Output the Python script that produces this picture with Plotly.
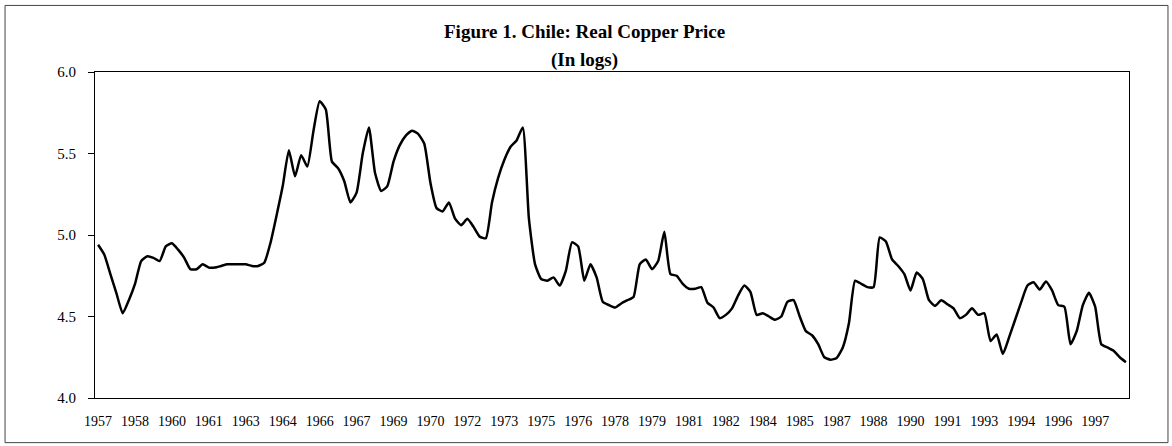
import plotly.graph_objects as go

# Quarterly real copper price (in logs), 1957Q1 - 1998Q4
years = list(range(1957, 1999))
values = [
    4.94, 4.88, 4.76, 4.64,   # 1957
    4.52, 4.60, 4.70, 4.84,   # 1958
    4.87, 4.86, 4.84, 4.93,   # 1959
    4.95, 4.91, 4.86, 4.79,   # 1960
    4.79, 4.82, 4.80, 4.80,   # 1961
    4.81, 4.82, 4.82, 4.82,   # 1962
    4.82, 4.81, 4.81, 4.83,   # 1963
    4.95, 5.12, 5.30, 5.52,   # 1964
    5.36, 5.49, 5.42, 5.64,   # 1965
    5.82, 5.77, 5.45, 5.41,   # 1966
    5.33, 5.20, 5.26, 5.50,   # 1967
    5.66, 5.38, 5.27, 5.30,   # 1968
    5.45, 5.55, 5.61, 5.64,   # 1969
    5.62, 5.56, 5.32, 5.165,  # 1970
    5.145, 5.20, 5.10, 5.06,  # 1971
    5.10, 5.05, 4.99, 4.98,   # 1972
    5.20, 5.35, 5.46, 5.54,   # 1973
    5.58, 5.66, 5.10, 4.82,   # 1974
    4.73, 4.72, 4.74, 4.69,   # 1975
    4.78, 4.955, 4.93, 4.72,  # 1976
    4.82, 4.74, 4.59, 4.57,   # 1977
    4.555, 4.58, 4.60, 4.62,  # 1978
    4.82, 4.85, 4.79, 4.84,   # 1979
    5.02, 4.76, 4.75, 4.70,   # 1980
    4.67, 4.67, 4.68, 4.585,  # 1981
    4.555, 4.49, 4.51, 4.55,  # 1982
    4.63, 4.69, 4.65, 4.51,   # 1983
    4.52, 4.50, 4.48, 4.50,   # 1984
    4.59, 4.60, 4.50, 4.41,   # 1985
    4.385, 4.33, 4.25, 4.235, # 1986
    4.245, 4.31, 4.46, 4.72,  # 1987
    4.70, 4.68, 4.68, 4.985,  # 1988
    4.96, 4.85, 4.81, 4.76,   # 1989
    4.66, 4.77, 4.73, 4.60,   # 1990
    4.565, 4.60, 4.575, 4.55, # 1991
    4.49, 4.51, 4.55, 4.51,   # 1992
    4.52, 4.35, 4.39, 4.27,   # 1993
    4.37, 4.48, 4.59, 4.69,   # 1994
    4.71, 4.665, 4.715, 4.66, # 1995
    4.57, 4.56, 4.33, 4.41,   # 1996
    4.57, 4.645, 4.56, 4.33,  # 1997
    4.31, 4.29, 4.25, 4.22,   # 1998
]

periods = [f"{y}Q{q}" for y in years for q in range(1, 5)]

tick_labels = ["1957", "1958", "1960", "1961", "1963", "1964", "1966", "1967",
               "1969", "1970", "1972", "1973", "1975", "1976", "1978", "1979",
               "1981", "1982", "1984", "1985", "1987", "1988", "1990", "1991",
               "1993", "1994", "1996", "1997"]
tick_periods = ["1957Q1", "1958Q3", "1960Q1", "1961Q3", "1963Q1", "1964Q3",
                "1966Q1", "1967Q3", "1969Q1", "1970Q3", "1972Q1", "1973Q3",
                "1975Q1", "1976Q3", "1978Q1", "1979Q3", "1981Q1", "1982Q3",
                "1984Q1", "1985Q3", "1987Q1", "1988Q3", "1990Q1", "1991Q3",
                "1993Q1", "1994Q3", "1996Q1", "1997Q3"]

y_ticks = [4.0, 4.5, 5.0, 5.5, 6.0]
y_labels = ["4.0", "4.5", "5.0", "5.5", "6.0"]

FONT = "Liberation Serif, Times New Roman, serif"

fig = go.Figure()
fig.add_trace(go.Scatter(
    x=periods, y=values, mode="lines",
    line=dict(color="black", width=2.5, shape="spline", smoothing=0.5),
    showlegend=False, hoverinfo="x+y",
))

fig.update_layout(
    width=1172, height=446,
    margin=dict(l=95, r=43, t=72, b=48),
    paper_bgcolor="white", plot_bgcolor="white",
    font=dict(family=FONT, size=14, color="black"),
    showlegend=False,
)

fig.update_xaxes(
    type="category", categoryorder="array", categoryarray=periods,
    range=[-0.5, len(periods) - 0.5],
    tickmode="array", tickvals=tick_periods, ticktext=tick_labels,
    ticks="", showgrid=False, zeroline=False,
    showline=True, linecolor="black", linewidth=1, mirror=True,
    tickfont=dict(family=FONT, size=14, color="black"),
    ticklabelstandoff=10,
)
fig.update_yaxes(
    range=[4.0, 6.0], tickmode="array", tickvals=y_ticks, ticktext=y_labels,
    ticks="outside", ticklen=6, tickcolor="black", tickwidth=1,
    showgrid=False, zeroline=False,
    showline=True, linecolor="black", linewidth=1, mirror=True,
    tickfont=dict(family=FONT, size=15, color="black"),
    ticklabelstandoff=9,
)

# Chart titles
fig.add_annotation(text="<b>Figure 1. Chile: Real Copper Price</b>",
                   xref="paper", yref="paper", x=0.473, y=1.1255,
                   xanchor="center", yanchor="middle",
                   showarrow=False, font=dict(family=FONT, size=19, color="black"))
fig.add_annotation(text="<b>(In logs)</b>",
                   xref="paper", yref="paper", x=0.473, y=1.0374,
                   xanchor="center", yanchor="middle",
                   showarrow=False, font=dict(family=FONT, size=19, color="black"))

# Outer chart frame
fig.add_shape(type="rect", xref="paper", yref="paper",
              x0=-0.087, x1=1.0377, y0=-0.1369, y1=1.2042,
              line=dict(color="#444444", width=1), fillcolor="rgba(0,0,0,0)",
              layer="below")

fig.write_html(
    "out.html",
    config={"displayModeBar": False},
    post_script="document.body.style.margin='0px';document.body.style.overflow='hidden';",
)
